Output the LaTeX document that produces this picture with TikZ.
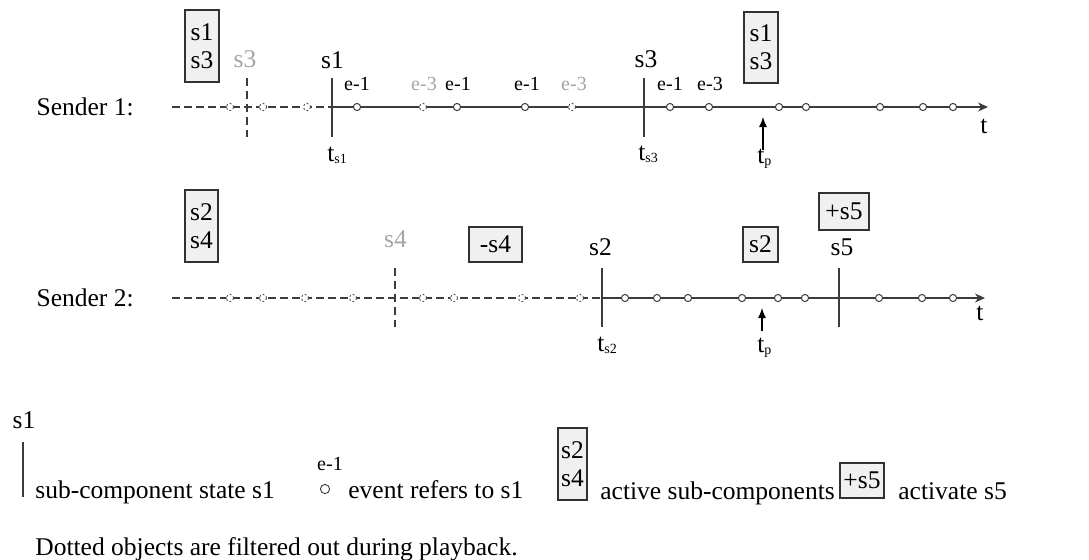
\documentclass[tikz,border=0pt]{standalone}
\usepackage{fontspec}
\setmainfont{Liberation Serif}
\usetikzlibrary{arrows.meta}
\definecolor{fadedgray}{RGB}{165,165,165}
\definecolor{linegray}{RGB}{60,60,60}
\definecolor{boxfill}{RGB}{240,240,240}
\definecolor{boxdraw}{RGB}{50,50,50}
\newcommand{\bigfnt}{\fontsize{12.75}{14}\selectfont}
\newcommand{\smallfnt}{\fontsize{10}{11}\selectfont}
\newcommand{\subfnt}{\fontsize{7}{8}\selectfont}
\begin{document}
\begin{tikzpicture}[x=0.5pt,y=-0.5pt,
  lbl/.style={font=\bigfnt, inner sep=0pt, anchor=base},
  glbl/.style={lbl, text=fadedgray},
  elbl/.style={font=\smallfnt, inner sep=0pt, anchor=base},
  gelbl/.style={elbl, text=fadedgray},
  txt/.style={font=\bigfnt, inner sep=0pt, anchor=base west},
  sbox/.style={draw=boxdraw, fill=boxfill, line width=0.6pt, font=\bigfnt, align=center, inner sep=0pt},
  ev/.style={circle, draw=linegray, fill=white, line width=0.5pt, minimum size=3.6pt, inner sep=0pt},
  evd/.style={circle, draw=linegray, fill=white, line width=0.4pt, dash pattern=on 0.9pt off 1.1pt, minimum size=3.6pt, inner sep=0pt},
  axisline/.style={draw=linegray, line width=0.55pt},
  dashline/.style={draw=linegray, line width=0.55pt, dash pattern=on 4pt off 2pt},
  stateline/.style={draw=linegray, line width=0.6pt},
  dstateline/.style={draw=linegray, line width=0.6pt, dash pattern=on 4pt off 2.5pt},
  arrowtip/.style={-{Stealth[length=5pt,width=4.5pt]}},
  ptr/.style={draw=black, line width=0.6pt, -{Latex[length=5pt,width=4pt]}}
]
\useasboundingbox (0,0) rectangle (1089,559);

% ---------------- Sender 1 ----------------
\node[txt, anchor=base east] (snd1) at (134,115) {Sender 1:};
\coordinate (a1s) at (172,107);
\coordinate (a1m) at (332,107);
\coordinate (a1e) at (988,107);
\draw[dashline] (a1s) -- (a1m);
\draw[axisline, arrowtip] (a1m) -- (a1e);
\node[lbl] (t1) at (984,133) {t};

\node[sbox, minimum width=17pt, minimum height=36pt] (act1a) at (202,46) {s1\\s3};
\node[sbox, minimum width=17pt, minimum height=35.5pt] (act1b) at (761,47.5) {s1\\s3};

% state lines
\coordinate (g3t) at (247,78); \coordinate (g3b) at (247,137);
\draw[dstateline] (g3t) -- (g3b);
\node[glbl] (lg3) at (245,67) {s3};
\coordinate (s1t) at (332,78); \coordinate (s1b) at (332,137);
\draw[stateline] (s1t) -- (s1b);
\node[lbl] (ls1) at (332.5,68) {s1};
\coordinate (s3t) at (644,78); \coordinate (s3b) at (644,137);
\draw[stateline] (s3t) -- (s3b);
\node[lbl] (ls3) at (646,67) {s3};

% events sender 1
\foreach \x [count=\i] in {230,263,307,423,572}
  \node[evd] (d1\i) at (\x,107) {};
\foreach \x [count=\i] in {357,457,525,670,709,779,806,880,923,953}
  \node[ev] (e1\i) at (\x,107) {};
\node[elbl] (le11) at (357,90) {e-1};
\node[gelbl] (le12) at (424,90) {e-3};
\node[elbl] (le13) at (458,90) {e-1};
\node[elbl] (le14) at (527,90) {e-1};
\node[gelbl] (le15) at (574,90) {e-3};
\node[elbl] (le16) at (670,90) {e-1};
\node[elbl] (le17) at (710,90) {e-3};

% time labels sender 1
\node[txt] (ts1) at (327,161) {t\raisebox{-1pt}{\subfnt s1}};
\node[txt] (ts3) at (638,160) {t\raisebox{-1pt}{\subfnt s3}};
\coordinate (p1b) at (763,150); \coordinate (p1t) at (763,117);
\draw[ptr] (p1b) -- (p1t);
\node[txt] (tp1) at (757,163) {t\raisebox{-1pt}{\subfnt p}};

% ---------------- Sender 2 ----------------
\node[txt, anchor=base east] (snd2) at (134,306) {Sender 2:};
\coordinate (a2s) at (172,298);
\coordinate (a2m) at (602,298);
\coordinate (a2e) at (985,298);
\draw[dashline] (a2s) -- (a2m);
\draw[axisline, arrowtip] (a2m) -- (a2e);
\node[lbl] (t2) at (980,320) {t};

\node[sbox, minimum width=16.5pt, minimum height=36pt] (act2a) at (201.5,226) {s2\\s4};
\node[sbox, minimum width=26.5pt, minimum height=17.5pt] (deact4) at (495.5,244.5) {-s4};
\node[sbox, minimum width=17.5pt, minimum height=17.5pt] (act2b) at (760.5,244.5) {s2};
\node[sbox, minimum width=25pt, minimum height=18.5pt] (act5) at (844,211.5) {+s5};

\coordinate (g4t) at (395,268); \coordinate (g4b) at (395,327);
\draw[dstateline] (g4t) -- (g4b);
\node[glbl] (lg4) at (395.5,247) {s4};
\coordinate (s2t) at (602,268); \coordinate (s2b) at (602,327);
\draw[stateline] (s2t) -- (s2b);
\node[lbl] (ls2) at (600.5,255) {s2};
\coordinate (s5t) at (839,268); \coordinate (s5b) at (839,327);
\draw[stateline] (s5t) -- (s5b);
\node[lbl] (ls5) at (842,255) {s5};

\foreach \x [count=\i] in {230,263,305,353,423,454,522,580}
  \node[evd] (d2\i) at (\x,298) {};
\foreach \x [count=\i] in {625,657,688,742,778,805,879,922,953}
  \node[ev] (e2\i) at (\x,298) {};

\node[txt] (ts2) at (597,351) {t\raisebox{-1pt}{\subfnt s2}};
\coordinate (p2b) at (762,331); \coordinate (p2t) at (762,308);
\draw[ptr] (p2b) -- (p2t);
\node[txt] (tp2) at (757,352) {t\raisebox{-1pt}{\subfnt p}};

% ---------------- Legend ----------------
\node[lbl] (lgs1) at (24,428) {s1};
\coordinate (lgt) at (23,442); \coordinate (lgb) at (23,497);
\draw[stateline] (lgt) -- (lgb);
\node[txt] (lgt1) at (35,498) {sub-component state s1};
\node[elbl] (lge) at (330,470) {e-1};
\node[ev, minimum size=4.6pt, line width=0.45pt] (lgc) at (325,489) {};
\node[txt] (lgt2) at (348,498) {event refers to s1};
\node[sbox, minimum width=14.5pt, minimum height=36pt] (lgbox) at (572.5,464) {s2\\s4};
\node[txt] (lgt3) at (600,499) {active sub-components};
\node[sbox, minimum width=22pt, minimum height=17.5pt] (lgbox2) at (862,480.5) {+s5};
\node[txt] (lgt4) at (898,499) {activate s5};
\node[txt] (note) at (35,555) {Dotted objects are filtered out during playback.};
\end{tikzpicture}
\end{document}
